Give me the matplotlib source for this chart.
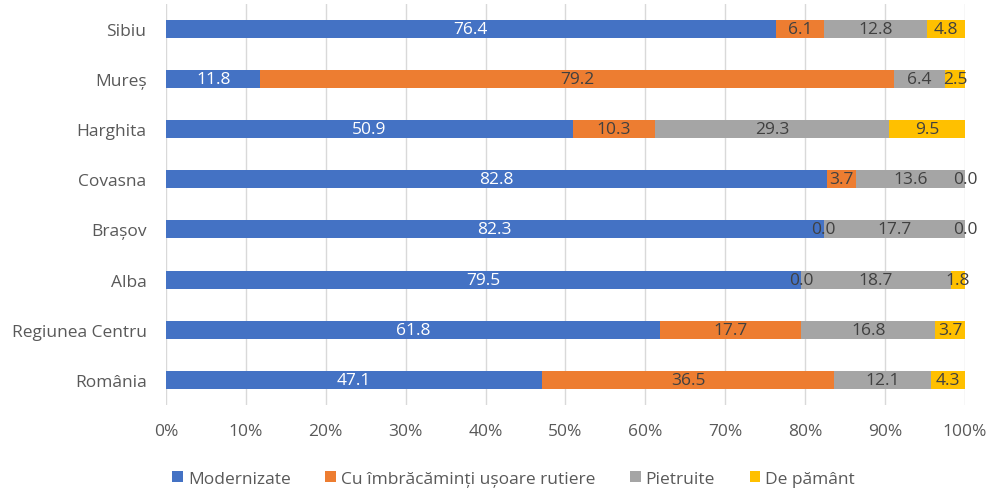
import matplotlib.pyplot as plt
import numpy as np
from matplotlib.ticker import PercentFormatter

plt.rcParams['font.family'] = ['Open Sans', 'DejaVu Sans']

categories = ['România', 'Regiunea Centru', 'Alba', 'Brașov', 'Covasna', 'Harghita', 'Mureș', 'Sibiu']
series_names = ['Modernizate', 'Cu îmbrăcăminți ușoare rutiere', 'Pietruite', 'De pământ']
modernizate = [47.1, 61.8, 79.5, 82.3, 82.8, 50.9, 11.8, 76.4]
imbracaminti = [36.5, 17.7, 0.0, 0.0, 3.7, 10.3, 79.2, 6.1]
pietruite = [12.1, 16.8, 18.7, 17.7, 13.6, 29.3, 6.4, 12.8]
pamant = [4.3, 3.7, 1.8, 0.0, 0.0, 9.5, 2.5, 4.8]

colors = ['#4472C4', '#ED7D31', '#A5A5A5', '#FFC000']
label_colors = ['white', '#404040', '#404040', '#404040']

data = np.array([modernizate, imbracaminti, pietruite, pamant])
totals = data.sum(axis=0)
shares = data / totals * 100

fs = 12.5
fig = plt.figure(figsize=(9.88, 4.89), dpi=100)
ax = fig.add_axes([0.168, 0.170, 0.8087, 0.820])

y = np.arange(len(categories))
left = np.zeros(len(categories))
for i in range(4):
    bars = ax.barh(y, shares[i], left=left, height=0.36, color=colors[i],
                   label=series_names[i], zorder=3)
    for j, b in enumerate(bars):
        cx = left[j] + shares[i][j] / 2
        ax.text(cx, y[j], f'{data[i][j]:.1f}', ha='center', va='center',
                color=label_colors[i], fontsize=fs, zorder=4)
    left += shares[i]

ax.set_xlim(0, 100)
ax.set_ylim(-0.5, len(categories) - 0.5)
ax.set_xticks(np.arange(0, 101, 10))
ax.xaxis.set_major_formatter(PercentFormatter(decimals=0))
ax.set_yticks(y)
ax.set_yticklabels(categories)
ax.grid(axis='x', color='#D9D9D9', linewidth=1, zorder=0)
for s in ax.spines.values():
    s.set_visible(False)
ax.tick_params(length=0, labelsize=fs, labelcolor='#595959')
ax.tick_params(axis='x', pad=13)
ax.tick_params(axis='y', pad=14)

fig.legend(loc='lower center', bbox_to_anchor=(0.52, -0.03), ncol=4, frameon=False,
           fontsize=fs, labelcolor='#595959', handlelength=0.6, handleheight=0.6,
           handletextpad=0.3, columnspacing=2.0)

fig.savefig('out.png', dpi=100)
